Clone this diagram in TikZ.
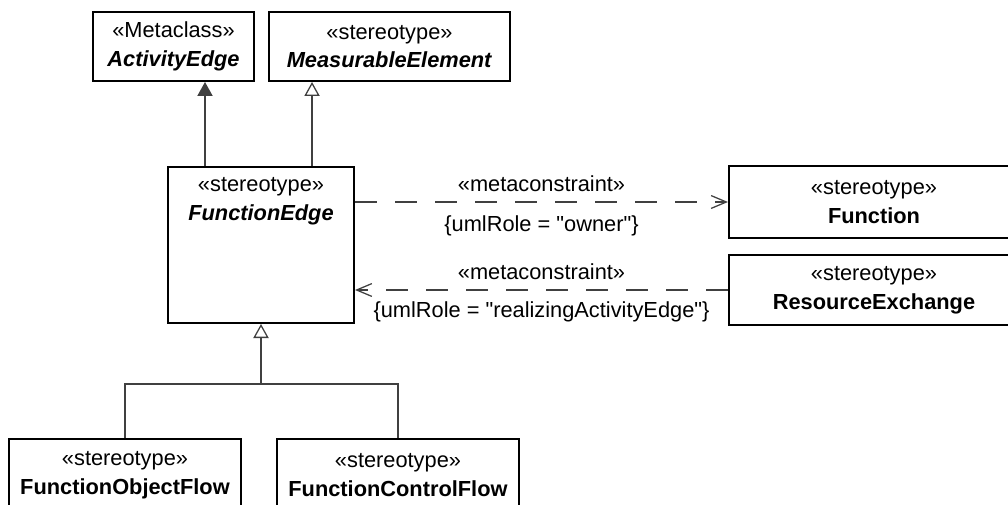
\documentclass[tikz,border=0pt]{standalone}
\usepackage{fontspec}
\setmainfont{Liberation Sans}
\usetikzlibrary{positioning,arrows.meta,calc}
\definecolor{lineGray}{RGB}{64,64,64}
\tikzset{
  classbox/.style={rectangle,draw=black,line width=1.4pt,align=center,fill=white,font=\fontsize{15.5}{20.5}\selectfont,inner sep=0pt},
  genline/.style={draw=lineGray,line width=0.9pt},
  opengen/.style={genline,-{Triangle[length=0.35cm,width=0.38cm,fill=white]}},
  solidgen/.style={genline,-{Triangle[length=0.35cm,width=0.38cm]}},
  metaedge/.style={genline,dash pattern=on 0.55cm off 0.45cm,-{Straight Barb[length=0.38cm,width=0.32cm]}},
  lbl/.style={font=\fontsize{15.5}{18}\selectfont,inner sep=1pt}
}

\begin{document}
\begin{tikzpicture}[x=0.025cm,y=-0.025cm]
  \useasboundingbox (0,0) rectangle (1008,505);
  \clip (0,0) rectangle (1008,505);
  % classes
  \node[classbox,minimum width=4.025cm,minimum height=1.725cm] (ae) at (173.5,46.5) {«Metaclass»\\\textbf{\textit{ActivityEdge}}};
  \node[classbox,minimum width=6.025cm,minimum height=1.725cm] (me) at (389.5,46.5) {«stereotype»\\\textbf{\textit{MeasurableElement}}};
  \node[classbox,minimum width=4.65cm,minimum height=3.9cm] (fe) at (261,245) {};
  \node[lbl,align=center,font=\fontsize{15.5}{20.5}\selectfont,anchor=north] (fetitle) at ([yshift=-0.25cm]fe.north) {«stereotype»\\\textbf{\textit{FunctionEdge}}};
  \node[classbox,minimum width=7.25cm,minimum height=1.8cm] (fn) at (874,202) {«stereotype»\\\textbf{Function}};
  \node[classbox,minimum width=7.25cm,minimum height=1.75cm] (re) at (874,290) {«stereotype»\\\textbf{ResourceExchange}};
  \node[classbox,minimum width=5.8cm,minimum height=1.8cm] (fof) at (125,475) {«stereotype»\\\textbf{FunctionObjectFlow}};
  \node[classbox,minimum width=6.05cm,minimum height=1.8cm] (fcf) at (398,475) {«stereotype»\\\textbf{FunctionControlFlow}};

  % generalizations
  \draw[solidgen] ([xshift=0.95cm]fe.north west) -- ([xshift=0.95cm]fe.north west |- ae.south);
  \draw[opengen] ([xshift=3.625cm]fe.north west) -- ([xshift=3.625cm]fe.north west |- me.south);
  \coordinate (split) at ($(fe.south)+(0,60)$);
  \draw[opengen] (split) -- (fe.south);
  \draw[genline] (fof.north) |- (split) -| (fcf.north);

  % metaconstraints
  \draw[metaedge] (fe.east |- fn.west) -- node[lbl,above=6pt] (mc1) {«metaconstraint»} node[lbl,below=8pt] (role1) {\{umlRole = \textquotedbl owner\textquotedbl\}} (fn.west);
  \draw[metaedge] (re.west) -- node[lbl,above=6pt] (mc2) {«metaconstraint»} node[lbl,below=7pt] (role2) {\{umlRole = \textquotedbl realizingActivityEdge\textquotedbl\}} (fe.east |- re.west);
\end{tikzpicture}
\end{document}
